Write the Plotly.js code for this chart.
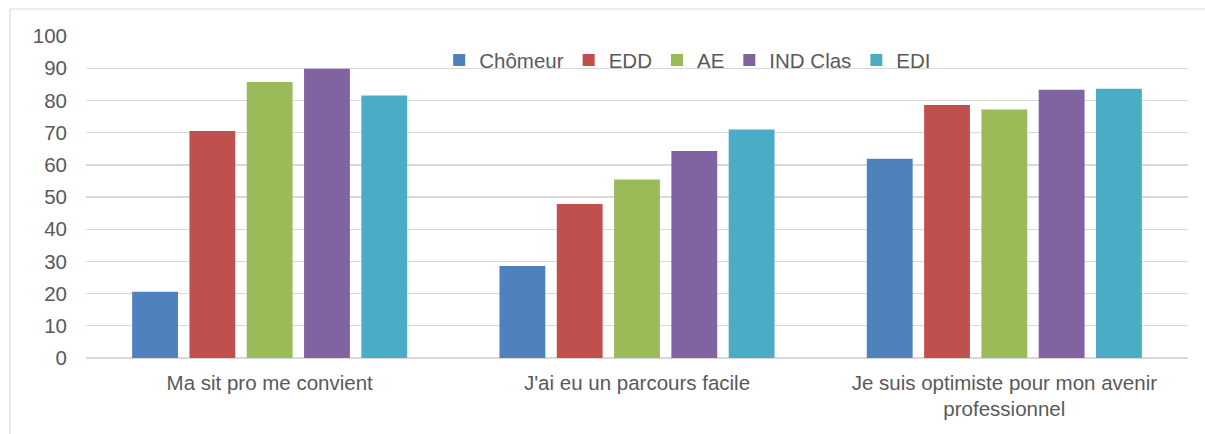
<!DOCTYPE html>
<html>
<head>
<meta charset="utf-8">
<script src="https://cdn.plot.ly/plotly-3.0.1.min.js"></script>
<style>html,body{margin:0;padding:0;background:#fff;}#chart{width:1205px;height:434px;}</style>
</head>
<body>
<div id="chart"></div>
<script>
const categories = ["Ma sit pro me convient", "J'ai eu un parcours facile", "Je suis optimiste pour mon avenir<br>professionnel"];
const seriesNames = ["Chômeur", "EDD", "AE", "IND Clas", "EDI"];
const chomeur = [20.6, 28.6, 61.9];
const edd = [70.5, 47.8, 78.6];
const ae = [85.7, 55.4, 77.2];
const indClas = [89.8, 64.3, 83.3];
const edi = [81.5, 71.0, 83.6];
const yTicks = [0, 10, 20, 30, 40, 50, 60, 70, 80, 90, 100];
const colors = ["#4F81BD", "#C0504D", "#9BBB59", "#8064A2", "#4BACC6"];
const values = [chomeur, edd, ae, indClas, edi];

const traces = seriesNames.map((n, i) => ({
  type: 'bar', name: n, x: categories, y: values[i],
  marker: {color: colors[i], line: {width: 0}},
  hoverinfo: 'y+name'
}));

const font = {family: 'Liberation Sans, Arial, sans-serif', size: 20.5, color: '#595959'};
const layout = {
  width: 1205, height: 434,
  margin: {l: 86, r: 17, t: 36, b: 76},
  paper_bgcolor: '#ffffff', plot_bgcolor: '#ffffff',
  font: font,
  barmode: 'group', bargap: 0.22, bargroupgap: 0.2,
  showlegend: true,
  legend: {orientation: 'h', x: 0.546, xanchor: 'center', y: 0.925, yanchor: 'middle',
           bgcolor: 'rgba(0,0,0,0)', font: font, itemwidth: 30, traceorder: 'normal'},
  xaxis: {type: 'category', showgrid: false, zeroline: false, showline: false,
          ticks: '', ticklabelstandoff: 10, tickfont: font, fixedrange: true},
  yaxis: {range: [0, 100], tickvals: yTicks, ticktext: yTicks.map(String),
          showgrid: true, gridcolor: '#D9D9D9', gridwidth: 1.4,
          zeroline: true, zerolinecolor: '#D9D9D9', zerolinewidth: 1.4,
          showline: false, ticks: '', ticklabelstandoff: 18, tickfont: font, fixedrange: true},
  shapes: [
    {type: 'line', xref: 'paper', yref: 'paper', x0: -0.069, x1: 1.02, y0: 1.0839, y1: 1.0839,
     line: {color: '#D9D9D9', width: 1.2}},
    {type: 'line', xref: 'paper', yref: 'paper', x0: -0.069, x1: -0.069, y0: 1.0839, y1: -0.25,
     line: {color: '#D9D9D9', width: 1.2}}
  ]
};
Plotly.newPlot('chart', traces, layout, {displayModeBar: false, staticPlot: true});
</script>
</body>
</html>
